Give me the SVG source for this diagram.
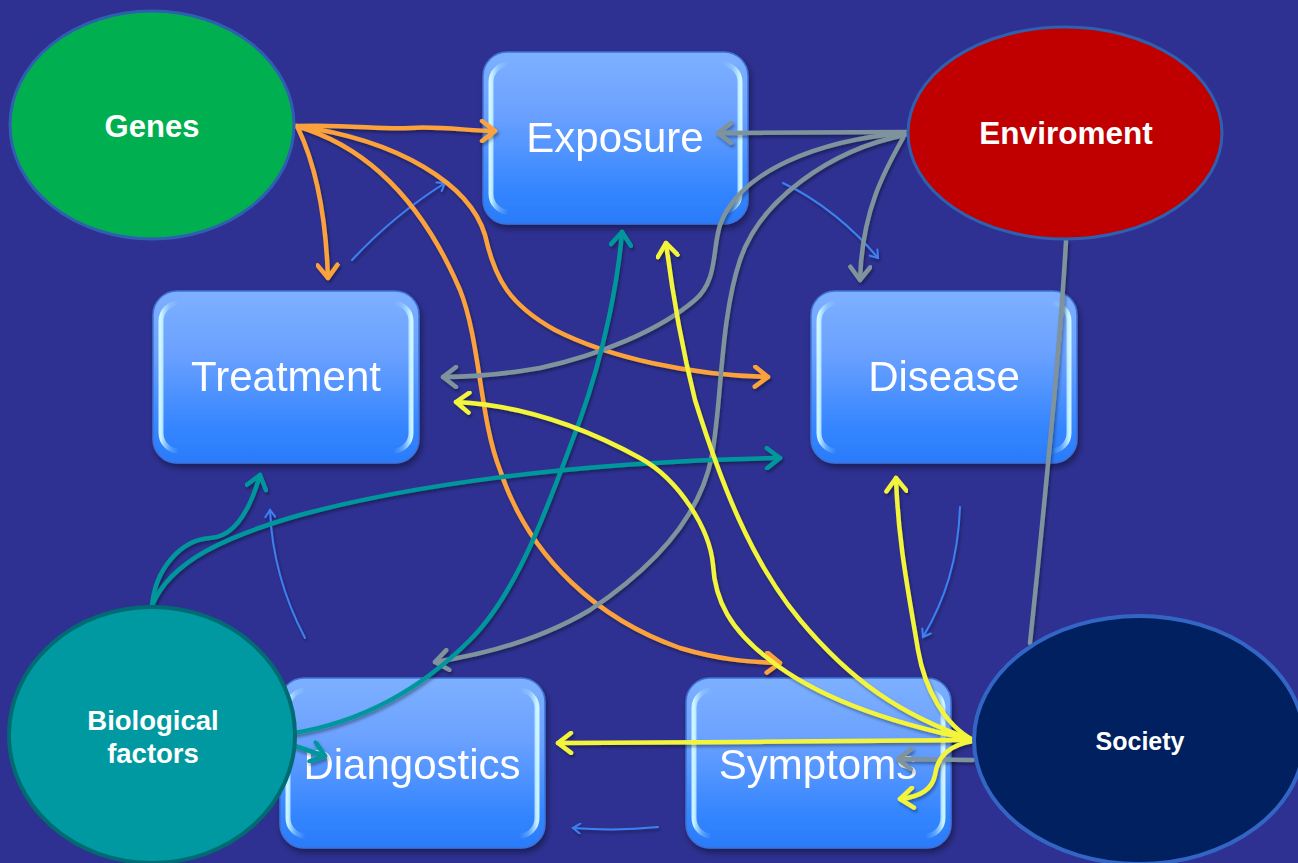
<svg xmlns="http://www.w3.org/2000/svg" width="1298" height="863" viewBox="0 0 1298 863">
<style>
.box{fill:url(#boxg);stroke:#3F72D8;stroke-width:1.5}
.rim{fill:none;stroke:url(#rim);stroke-width:5}
.bt{font-family:"Liberation Sans",Arial,sans-serif;font-size:42px;fill:#fff;text-anchor:middle}
.et{font-family:"Liberation Sans",Arial,sans-serif;font-weight:bold;fill:#fff;text-anchor:middle}
.c{fill:none;stroke-width:4.5;stroke-linecap:round}
.or{stroke:#FBA23C;marker-end:url(#mo)}
.gr{stroke:#7F939D;marker-end:url(#mg)}
.te{stroke:#00979C;marker-end:url(#mt)}
.ye{stroke:#F2F53A;marker-end:url(#my)}
.th{fill:none;stroke:#3C80F2;stroke-width:2;stroke-linecap:round;marker-end:url(#mb)}
</style>
<defs>
<linearGradient id="boxg" x1="0" y1="0" x2="0" y2="1">
<stop offset="0" stop-color="#7DB0FF"/>
<stop offset="0.35" stop-color="#6CA2FF"/>
<stop offset="0.8" stop-color="#3485FF"/>
<stop offset="1" stop-color="#2A7BFA"/>
</linearGradient>
<linearGradient id="rim" x1="0" y1="0" x2="1" y2="0">
<stop offset="0" stop-color="#D8FFFF" stop-opacity="0.9"/>
<stop offset="0.035" stop-color="#A8E0FF" stop-opacity="0.35"/>
<stop offset="0.07" stop-color="#A8E0FF" stop-opacity="0"/>
<stop offset="0.93" stop-color="#A8E0FF" stop-opacity="0"/>
<stop offset="0.965" stop-color="#A8E0FF" stop-opacity="0.35"/>
<stop offset="1" stop-color="#D8FFFF" stop-opacity="0.9"/>
</linearGradient>
<filter id="sh" x="-10%" y="-10%" width="120%" height="130%">
<feDropShadow dx="2" dy="4" stdDeviation="3" flood-color="#000" flood-opacity="0.4"/>
</filter>
<filter id="lsh" x="-10%" y="-10%" width="120%" height="120%">
<feDropShadow dx="1.5" dy="2.5" stdDeviation="1.5" flood-color="#000" flood-opacity="0.35"/>
</filter>
<marker id="mo" viewBox="-16 -12 20 24" markerWidth="20" markerHeight="24" refX="0" refY="0" orient="auto" markerUnits="userSpaceOnUse"><path d="M-13,-10 L0,0 L-13,10" fill="none" stroke="#FBA23C" stroke-width="4.5" stroke-linecap="round" stroke-linejoin="round"/></marker>
<marker id="mg" viewBox="-16 -12 20 24" markerWidth="20" markerHeight="24" refX="0" refY="0" orient="auto" markerUnits="userSpaceOnUse"><path d="M-13,-10 L0,0 L-13,10" fill="none" stroke="#7F939D" stroke-width="4.5" stroke-linecap="round" stroke-linejoin="round"/></marker>
<marker id="mt" viewBox="-16 -12 20 24" markerWidth="20" markerHeight="24" refX="0" refY="0" orient="auto" markerUnits="userSpaceOnUse"><path d="M-13,-10 L0,0 L-13,10" fill="none" stroke="#00979C" stroke-width="4.5" stroke-linecap="round" stroke-linejoin="round"/></marker>
<marker id="my" viewBox="-16 -12 20 24" markerWidth="20" markerHeight="24" refX="0" refY="0" orient="auto" markerUnits="userSpaceOnUse"><path d="M-13,-10 L0,0 L-13,10" fill="none" stroke="#F2F53A" stroke-width="4.5" stroke-linecap="round" stroke-linejoin="round"/></marker>
<marker id="mb" viewBox="-10 -6 12 12" markerWidth="12" markerHeight="12" refX="0" refY="0" orient="auto" markerUnits="userSpaceOnUse"><path d="M-7,-5 L0,0 L-7,5" fill="none" stroke="#3C80F2" stroke-width="2" stroke-linecap="round"/></marker>
</defs>
<rect x="0" y="0" width="1298" height="863" fill="#2E3191"/>

<g id="exposure" filter="url(#sh)">
<rect class="box" x="483" y="52" width="265" height="172" rx="24"/>
<rect class="rim" x="491" y="64" width="249" height="148" rx="18"/>
<text class="bt" x="615" y="152">Exposure</text>
</g>
<g id="treatment" filter="url(#sh)">
<rect class="box" x="153" y="291" width="266" height="172" rx="24"/>
<rect class="rim" x="161" y="303" width="250" height="148" rx="18"/>
<text class="bt" x="286" y="391">Treatment</text>
</g>
<g id="disease" filter="url(#sh)">
<rect class="box" x="811" y="291" width="266" height="172" rx="24"/>
<rect class="rim" x="819" y="303" width="250" height="148" rx="18"/>
<text class="bt" x="944" y="391">Disease</text>
</g>
<g id="diangostics" filter="url(#sh)">
<rect class="box" x="280" y="678" width="265" height="170" rx="24"/>
<rect class="rim" x="288" y="690" width="249" height="146" rx="18"/>
<text class="bt" x="412" y="779">Diangostics</text>
</g>
<g id="symptoms" filter="url(#sh)">
<rect class="box" x="686" y="678" width="265" height="170" rx="24"/>
<rect class="rim" x="694" y="690" width="249" height="146" rx="18"/>
<text class="bt" x="818" y="779">Symptoms</text>
</g>

<g id="connectors" filter="url(#lsh)">
<path class="th" d="M352,260 C380,230 410,205 445,183"/>
<path class="th" d="M783,183 C820,200 855,230 878,258"/>
<path class="th" d="M960,507 C958,560 945,600 923,637"/>
<path class="th" d="M658,827 C630,830 600,830 573,828"/>
<path class="th" d="M305,638 C285,600 272,560 270,510"/>
<path class="c or" d="M296,126 C350,124 380,130 410,128 C440,126 470,131 495,131"/>
<path class="c or" d="M298,128 C318,170 326,220 328,278"/>
<path class="c or" d="M296,126 C400,140 470,185 485,235 C495,280 510,305 555,330 C610,358 690,375 768,377"/>
<path class="c or" d="M296,126 C380,150 430,220 460,290 C480,340 480,420 500,470 C530,560 600,620 680,648 C720,660 750,662 780,663"/>
<path class="c gr" d="M907,132 L718,133"/>
<path class="c gr" d="M903,138 C885,170 862,210 860,280"/>
<path class="c gr" d="M905,133 C820,140 740,170 720,225 C712,250 718,280 695,300 C660,330 600,355 540,368 C500,375 470,377 443,377"/>
<path class="c gr" d="M905,135 C830,150 760,200 740,260 C720,320 722,400 712,455 C700,520 650,570 590,610 C540,640 480,655 435,662"/>
<path class="c" stroke="#7F939D" stroke-width="3.5" d="M1030,643 C1045,500 1060,350 1066,241"/>
<path class="c gr" d="M973,760 L898,759"/>
<path class="c te" d="M152,606 C155,570 180,540 210,538 C235,537 250,510 260,475"/>
<path class="c te" d="M152,606 C170,560 230,535 300,515 C400,488 560,462 780,458"/>
<path class="c te" d="M294,733 C360,722 420,690 470,640 C520,590 550,500 580,420 C605,350 618,280 622,232"/>
<path class="c te" d="M292,745 L325,756"/>
<path class="c ye" d="M973,740 C800,742 700,742 558,743"/>
<path class="c ye" d="M973,741 C950,745 938,755 935,775 C932,790 920,797 900,799"/>
<path class="c ye" d="M973,740 C945,725 925,690 918,650 C908,590 898,540 896,478"/>
<path class="c ye" d="M973,740 C900,715 850,680 800,620 C750,560 720,480 695,400 C680,340 672,290 666,243"/>
<path class="c ye" d="M973,740 C900,725 820,700 770,660 C730,630 715,600 713,565 C710,530 680,480 640,458 C580,425 520,405 456,402"/>
</g>

<g id="genes">
<ellipse cx="152" cy="125" rx="142" ry="114" fill="#00B050" stroke="#2F5FB0" stroke-width="3"/>
<text class="et" x="152" y="137" font-size="31">Genes</text>
</g>
<g id="enviroment">
<ellipse cx="1065" cy="133" rx="157" ry="106" fill="#C00000" stroke="#2F5FB0" stroke-width="3"/>
<text class="et" x="1066" y="144" font-size="31.5">Enviroment</text>
</g>
<g id="biological">
<ellipse cx="152" cy="735" rx="143" ry="128" fill="#0099A2" stroke="#006B72" stroke-width="4"/>
<text class="et" x="153" y="730" font-size="27.5">Biological</text>
<text class="et" x="153" y="763" font-size="27.5">factors</text>
</g>
<g id="society">
<ellipse cx="1139" cy="740" rx="165" ry="124" fill="#002060" stroke="#3366C4" stroke-width="4"/>
<text class="et" x="1140" y="750" font-size="25">Society</text>
</g>
</svg>
